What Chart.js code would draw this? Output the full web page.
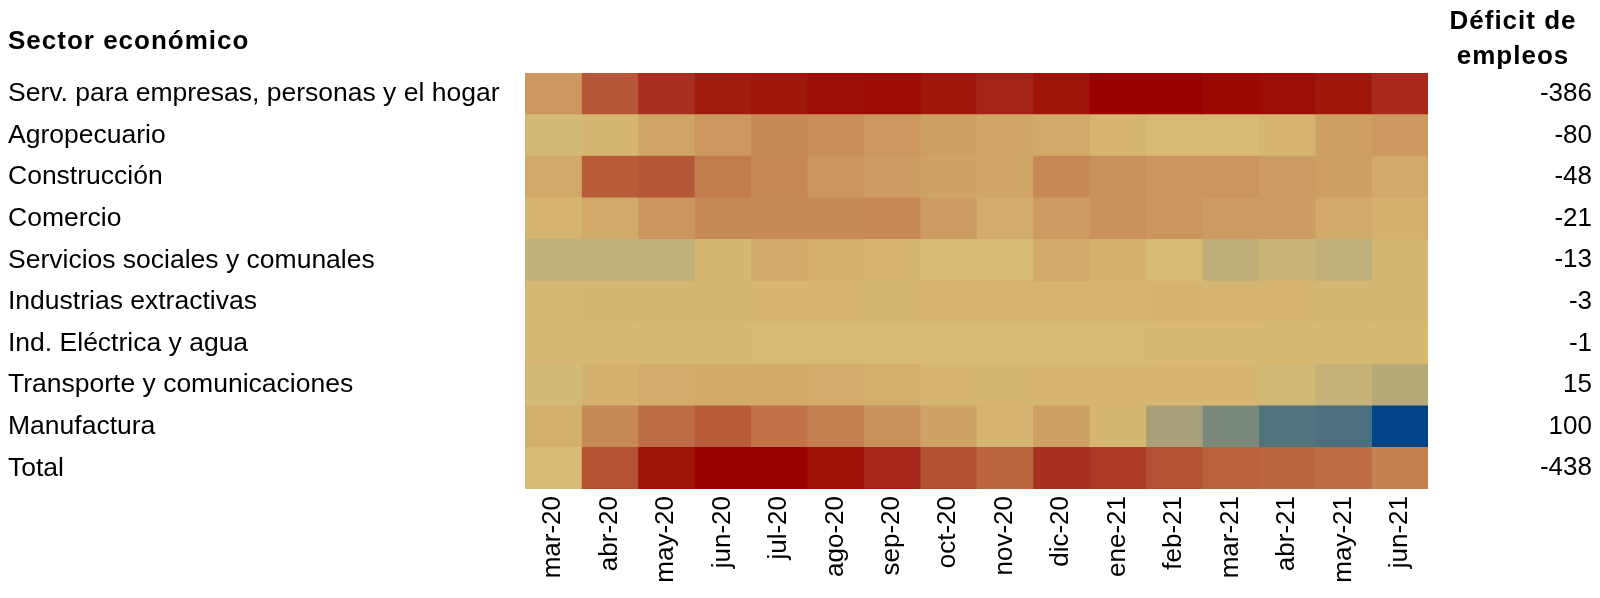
<!DOCTYPE html>
<html>
<head>
<meta charset="utf-8">
<script src="https://cdn.jsdelivr.net/npm/chart.js@4/dist/chart.umd.min.js"></script>
<style>
  body { margin: 0; background: #fff; }
  canvas { display: block; }
</style>
</head>
<body>
<canvas id="heat" width="1600" height="598"></canvas>
<script>
// meses y sectores
const months = ['mar-20', 'abr-20', 'may-20', 'jun-20', 'jul-20', 'ago-20', 'sep-20', 'oct-20',
  'nov-20', 'dic-20', 'ene-21', 'feb-21', 'mar-21', 'abr-21', 'may-21', 'jun-21'];
const sectors = ['Serv. para empresas, personas y el hogar', 'Agropecuario', 'Construcción', 'Comercio',
  'Servicios sociales y comunales', 'Industrias extractivas', 'Ind. Eléctrica y agua',
  'Transporte y comunicaciones', 'Manufactura', 'Total'];
// déficit de empleos (miles)
const deficit = [-386, -80, -48, -21, -13, -3, -1, 15, 100, -438];

// variación estimada (%) por mes, leída del color de cada celda
const servEmpresas = [-6, -15, -21, -25, -26, -28, -28.5, -26, -23.5, -27, -30, -30, -29, -28, -26, -22];
const agropecuario = [0.5, -1, -4, -6, -8, -7.5, -6, -5, -4, -3.5, -1.5, -0.5, -0.5, -1.5, -5, -6];
const construccion = [-3.5, -14, -15, -10.5, -8.5, -6.5, -5.5, -4.5, -4, -8.5, -7, -6.5, -6.5, -5.5, -5, -3.5];
const comercio = [-1.5, -3.5, -6.5, -8, -8, -8, -8.5, -5.5, -3, -5.5, -7, -6.5, -5.5, -5.5, -3.5, -2];
const servSociales = [2, 2, 2, -1, -3.5, -2.5, -1.5, -0.5, -0.5, -3.5, -2, 0, 2.2, 1.2, 2, -1];
const extractivas = [-0.8, -1, -1, -1, -1.2, -1.2, -1.3, -1.5, -1.5, -1.5, -1.5, -1.6, -1.5, -1.2, -1, -1];
const electrica = [-0.8, -0.6, -0.6, -0.6, -0.3, -0.3, -0.3, -0.4, -0.4, -0.5, -0.5, -0.6, -0.6, -0.6, -0.6, -0.6];
const transporte = [0.5, -2, -3, -3.2, -3.2, -3, -2.5, -1.5, -1, -1.2, -1.2, -1.2, -1.2, 0.5, 1.7, 2.8];
const manufactura = [-2.5, -8, -12, -14, -11.5, -10, -7, -4.5, -1.5, -5, -1, 4, 6, 8, 8.3, 12];
const total = [-0.5, -16, -27, -30, -30, -27.5, -23, -16.5, -13, -21, -19.5, -16, -13.5, -13, -12, -10];

const rows = [servEmpresas, agropecuario, construccion, comercio, servSociales,
  extractivas, electrica, transporte, manufactura, total];

// escala de color: rojo (caída) -> arena (0) -> azul (aumento)
const colorStops = [
  [-30, '#990000'], [-27, '#9e1408'], [-23, '#a62418'], [-21, '#a83020'], [-16, '#b45234'],
  [-14, '#b85c3a'], [-12, '#be6e46'], [-10, '#c48050'], [-8, '#c68a56'], [-6, '#cc9860'],
  [-4, '#d0a666'], [-2, '#d4b26e'], [0, '#d8bc74'], [2, '#c0b07a'], [4, '#a8a078'],
  [6, '#7a8a7a'], [8, '#52737e'], [12, '#004485']
];

function hexToRgb(h) {
  return [parseInt(h.slice(1, 3), 16), parseInt(h.slice(3, 5), 16), parseInt(h.slice(5, 7), 16)];
}

function heatColor(v) {
  if (v <= colorStops[0][0]) return colorStops[0][1];
  for (let i = 1; i < colorStops.length; i++) {
    const [v1, c1] = colorStops[i];
    if (v <= v1) {
      const [v0, c0] = colorStops[i - 1];
      const t = (v - v0) / (v1 - v0);
      const a = hexToRgb(c0), b = hexToRgb(c1);
      const mix = a.map((x, k) => Math.round(x + (b[k] - x) * t));
      return `rgb(${mix[0]},${mix[1]},${mix[2]})`;
    }
  }
  return colorStops[colorStops.length - 1][1];
}

// una serie por mes: cada celda es una barra flotante [mes, mes+1]
const datasets = months.map((m, j) => ({
  label: m,
  data: sectors.map(() => [j, j + 1]),
  backgroundColor: rows.map(r => heatColor(r[j])),
  borderWidth: 0,
  grouped: false,
  barPercentage: 1,
  categoryPercentage: 1
}));

const headers = {
  id: 'headers',
  afterDraw(chart) {
    const ctx = chart.ctx;
    ctx.save();
    ctx.fillStyle = '#000';
    ctx.font = "bold 26px 'Liberation Sans', Arial, sans-serif";
    ctx.letterSpacing = '1px';
    ctx.textBaseline = 'alphabetic';
    ctx.textAlign = 'left';
    ctx.fillText('Sector económico', 8, 49);
    ctx.textAlign = 'center';
    ctx.fillText('Déficit de', 1513, 29);
    ctx.fillText('empleos', 1513, 64);
    ctx.restore();
  }
};

Chart.defaults.font.family = "'Liberation Sans', Arial, sans-serif";
Chart.defaults.font.size = 26;
Chart.defaults.color = '#000';

new Chart(document.getElementById('heat'), {
  type: 'bar',
  data: { labels: sectors, datasets: datasets },
  plugins: [headers],
  options: {
    indexAxis: 'y',
    responsive: false,
    animation: false,
    layout: { padding: { left: 8, right: 8, top: 73, bottom: 0 } },
    plugins: { legend: { display: false }, tooltip: { enabled: false } },
    scales: {
      x: { type: 'linear', min: 0, max: months.length, display: false },
      xm: {
        type: 'category',
        position: 'bottom',
        labels: months,
        offset: true,
        grid: { display: false, drawTicks: false },
        border: { display: false },
        ticks: { autoSkip: false, minRotation: 90, maxRotation: 90, padding: 7 },
        afterFit(s) { s.height = 109; }
      },
      y: {
        type: 'category',
        labels: sectors,
        offset: true,
        grid: { display: false, drawTicks: false },
        border: { display: false },
        ticks: { crossAlign: 'far', autoSkip: false, font: { size: 26.5 } },
        afterFit(s) { s.width = 517; }
      },
      y2: {
        type: 'category',
        position: 'right',
        labels: deficit.map(String),
        offset: true,
        grid: { display: false, drawTicks: false },
        border: { display: false },
        ticks: { crossAlign: 'far', autoSkip: false },
        afterFit(s) { s.width = 164; }
      }
    }
  }
});
</script>
</body>
</html>
